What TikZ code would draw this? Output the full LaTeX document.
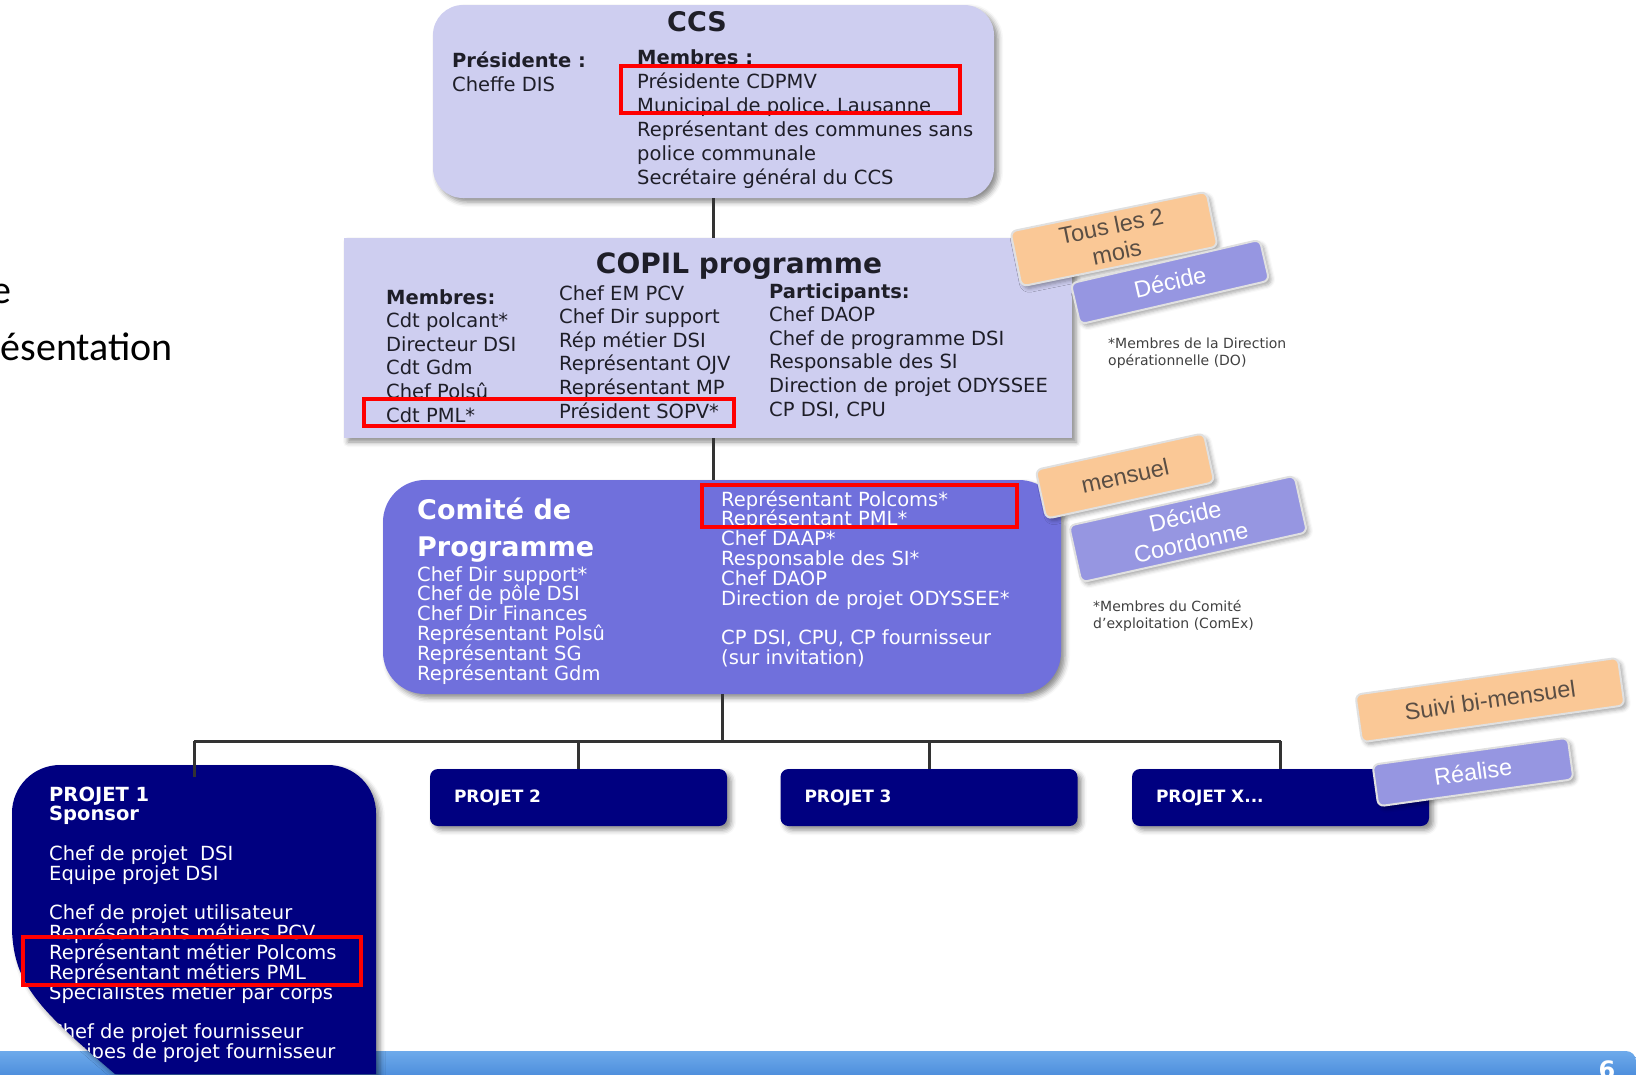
\documentclass[tikz,border=0pt]{standalone}
\usepackage{fontspec}
\setmainfont{DejaVu Sans}
\newfontfamily\tagfont{Liberation Sans}
\newfontfamily\slidefont{Carlito}
\usetikzlibrary{shadows.blur}

\definecolor{ccsfill}{RGB}{206,206,240}
\definecolor{comfill}{RGB}{112,112,220}
\definecolor{projnavy}{RGB}{0,0,128}
\definecolor{tagorange}{RGB}{250,200,150}
\definecolor{taglav}{RGB}{150,150,225}
\definecolor{tagtext}{RGB}{90,78,68}
\definecolor{barlight}{RGB}{110,170,235}
\definecolor{bardark}{RGB}{45,115,205}
\definecolor{textdark}{RGB}{30,30,40}

\tikzset{
  box/.style={inner sep=0pt, blur shadow={shadow xshift=4pt, shadow yshift=-4pt, shadow blur radius=5pt, shadow opacity=45}},
  txt/.style={anchor=base west, inner sep=0pt, text=textdark, font=\fontsize{19.5}{22}\selectfont},
  wtxt/.style={txt, text=white},
  head/.style={txt, font=\bfseries\fontsize{19.5}{22}\selectfont},
  link/.style={draw=black!80, line width=3pt},
  redbox/.style={draw=red, line width=4.5pt},
  proj/.style={box, fill=projnavy, rounded corners=8pt, minimum height=57pt, text width=249pt, inner xsep=24pt, align=left, text=white, font=\bfseries\fontsize{17}{20}\selectfont},
  tag/.style={rounded corners=6pt, draw=black!12, line width=2pt, align=center, inner sep=0pt, blur shadow={shadow xshift=3pt, shadow yshift=-3pt, shadow blur radius=4pt, shadow opacity=35}, font=\tagfont\fontsize{23.5}{27}\selectfont},
  freq/.style={tag, fill=tagorange, text=tagtext},
  role/.style={tag, fill=taglav, text=white},
  note/.style={anchor=north west, inner sep=0pt, align=left, text=black!75, font=\fontsize{14}{17}\selectfont}
}

% outline of the first project card
\newcommand{\projshape}{(12,930) [rounded corners=48pt] -- (12,765) -- (376,765) -- (376,900) [sharp corners] -- (376,1074) -- (115,1074) .. controls (40,1010) and (14,985) .. (12,930) -- cycle}

\begin{document}
\begin{tikzpicture}[x=1pt,y=-1pt]
\useasboundingbox (0,0) rectangle (1636,1074);

% leftover slide text
\node[anchor=base east, inner sep=0pt, font=\slidefont\fontsize{40}{44}\selectfont] (slidea) at (12,303) {e};
\node[anchor=base east, inner sep=0pt, font=\slidefont\fontsize{40}{44}\selectfont] (slideb) at (173,360) {ésentation};

% CCS
\node[box, fill=ccsfill, rounded corners=30pt, minimum width=561pt, minimum height=193pt] (ccs) at (713.5,101.5) {};
\node[anchor=base, inner sep=0pt, text=textdark, font=\bfseries\fontsize{27}{30}\selectfont] (ccstitle) at (697,31) {CCS};
\node[head] (ccspres) at (452,67) {Présidente :};
\node[txt] (ccscheffe) at (452,91) {Cheffe DIS};
\node[head] (ccsmemb) at (637,64) {Membres :};
\foreach \t [count=\i from 1] in {Présidente CDPMV, {Municipal de police, Lausanne}, Représentant des communes sans, police communale, Secrétaire général du CCS}
  \node[txt] (ccsm\i) at (637,{64+24*\i}) {\t};

% COPIL
\node[box, fill=ccsfill, minimum width=728pt, minimum height=200pt] (copil) at (708,338) {};
\node[anchor=base, inner sep=0pt, text=textdark, font=\bfseries\fontsize{28}{30}\selectfont] (copiltitle) at (739,273) {COPIL programme};
\node[head] (copilmemb) at (386,304) {Membres:};
\foreach \t [count=\i from 1] in {Cdt polcant*, Directeur DSI, Cdt Gdm, Chef Polsû, Cdt PML*}
  \node[txt] (copila\i) at (386,{304+23.6*\i}) {\t};
\foreach \t [count=\i from 0] in {Chef EM PCV, Chef Dir support, Rép métier DSI, Représentant OJV, Représentant MP, Président SOPV*}
  \node[txt] (copilb\i) at (559,{300+23.6*\i}) {\t};
\node[head] (copilpart) at (769,298) {Participants:};
\foreach \t [count=\i from 1] in {Chef DAOP, Chef de programme DSI, Responsable des SI, Direction de projet ODYSSEE, {CP DSI, CPU}}
  \node[txt] (copilc\i) at (769,{298+23.6*\i}) {\t};

% Comite de programme
\node[box, fill=comfill, rounded corners=42pt, minimum width=678pt, minimum height=214pt] (comite) at (722,587) {};
\node[anchor=base west, inner sep=0pt, text=white, font=\bfseries\fontsize{27}{30}\selectfont] (comtitlea) at (417,519) {Comité de};
\node[anchor=base west, inner sep=0pt, text=white, font=\bfseries\fontsize{27}{30}\selectfont] (comtitleb) at (417,556) {Programme};
\foreach \t [count=\i from 0] in {Chef Dir support*, Chef de pôle DSI, Chef Dir Finances, Représentant Polsû, Représentant SG, Représentant Gdm}
  \node[wtxt] (coma\i) at (417,{581+19.8*\i}) {\t};
\foreach \t [count=\i from 0] in {Représentant Polcoms*, Représentant PML*, Chef DAAP*, Responsable des SI*, Chef DAOP, Direction de projet ODYSSEE*, {}, {CP DSI, CPU, CP fournisseur}, (sur invitation)}
  \node[wtxt] (comb\i) at (721,{506+19.8*\i}) {\t};

% projets
\node[proj] (p2) at (578.5,797.5) {PROJET 2};
\node[proj] (p3) at (929,797.5) {PROJET 3};
\node[proj] (px) at (1280.5,797.5) {PROJET X...};

% bandeau du bas
\shade[top color=barlight, bottom color=bardark, rounded corners=10pt] (-20,1051) rectangle (1636,1100);
\node[anchor=base, inner sep=0pt, text=white, font=\bfseries\fontsize{24}{24}\selectfont] (pagenum) at (1607,1078) {6};

% projet 1
\coordinate (p1top) at (194,765);
\path[box, fill=projnavy] \projshape;
\begin{scope}
  \clip \projshape;
  \foreach \t [count=\i from 0] in {{\bfseries PROJET 1}, {\bfseries Sponsor}, {}, Chef de projet \ DSI, Equipe projet DSI, {}, Chef de projet utilisateur, Représentants métiers PCV, Représentant métier Polcoms, Représentant métiers PML, Spécialistes métier par corps, {}, Chef de projet fournisseur, Equipes de projet fournisseur}
    \node[wtxt] (p1l\i) at (49,{801+19.8*\i}) {\t};
\end{scope}

% liaisons
\coordinate (bus) at (720,741);
\draw[link] (ccs.south) -- (ccs.south |- copil.north);
\draw[link] (copil.south -| ccs.south) -- (comite.north -| ccs.south);
\draw[link] (comite.south) -- (comite.south |- bus);
\draw[link] (p1top |- bus) -- (px.north |- bus);
\foreach \p in {p2,p3,px}
  \draw[link] (\p.north |- bus) -- (\p.north);
\draw[link] (p1top |- bus) -- ([yshift=-12pt]p1top);

% cadres rouges
\draw[redbox] (621,66) rectangle (960,113);
\draw[redbox] (364,399) rectangle (734,426);
\draw[redbox] (702,485) rectangle (1017,527);
\draw[redbox] (23,937) rectangle (361,985);

% etiquettes
\node[freq, rotate=11.5, minimum width=200pt, minimum height=56pt] (freqa) at (1114,239) {Tous les 2\\mois};
\node[role, rotate=13, minimum width=194pt, minimum height=42pt] (rolea) at (1170,282) {Décide};
\node[note] (notea) at (1108,338) {*Membres de la Direction\\opérationnelle (DO)};

\node[freq, rotate=12.3, minimum width=172pt, minimum height=50pt] (freqb) at (1125,476) {mensuel};
\node[role, rotate=12.5, minimum width=231pt, minimum height=58pt] (roleb) at (1188,529) {Décide\\Coordonne};
\node[note] (noteb) at (1093,600) {*Membres du Comité\\d'exploitation (ComEx)};

\node[freq, rotate=8, minimum width=265pt, minimum height=48pt] (freqc) at (1490,700) {Suivi bi-mensuel};
\node[role, rotate=7.9, minimum width=197pt, minimum height=42pt] (rolec) at (1473,772) {Réalise};
\end{tikzpicture}
\end{document}
